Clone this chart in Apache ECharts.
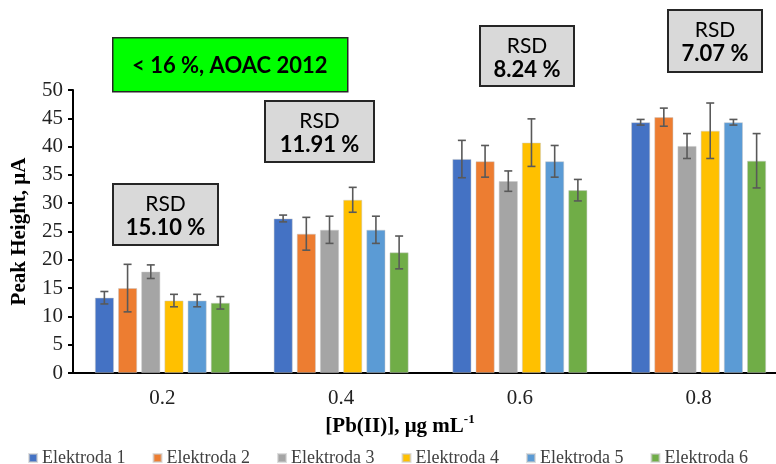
<!DOCTYPE html>
<html>
<head>
<meta charset="utf-8">
<script src="https://cdn.jsdelivr.net/npm/echarts@6/dist/echarts.min.js"></script>
<style>html,body{margin:0;padding:0;background:#fff}#c{width:776px;height:464px}</style>
</head>
<body>
<div id="c"></div>
<script>
const categories = ['0.2', '0.4', '0.6', '0.8'];
const seriesNames = ['Elektroda 1', 'Elektroda 2', 'Elektroda 3', 'Elektroda 4', 'Elektroda 5', 'Elektroda 6'];
const e1 = [13.3, 27.3, 37.8, 44.3];
const e2 = [15.0, 24.6, 37.4, 45.2];
const e3 = [17.9, 25.3, 33.9, 40.1];
const e4 = [12.8, 30.6, 40.7, 42.8];
const e5 = [12.8, 25.3, 37.4, 44.3];
const e6 = [12.4, 21.3, 32.3, 37.5];
const err1 = [1.1, 0.6, 3.3, 0.5];
const err2 = [4.2, 2.9, 2.8, 1.6];
const err3 = [1.2, 2.4, 1.8, 2.2];
const err4 = [1.1, 2.2, 4.2, 4.9];
const err5 = [1.1, 2.4, 2.8, 0.5];
const err6 = [1.1, 2.9, 1.9, 4.8];
const rsdLabels = ['15.10 %', '11.91 %', '8.24 %', '7.07 %'];
const yTicks = [0, 5, 10, 15, 20, 25, 30, 35, 40, 45, 50];

const values = [e1, e2, e3, e4, e5, e6];
const errors = [err1, err2, err3, err4, err5, err6];
const colors = ['#4472C4', '#ED7D31', '#A5A5A5', '#FFC000', '#5B9BD5', '#70AD47'];
const BAR_W = 19, BAR_STEP = 23.2;

const chart = echarts.init(document.getElementById('c'));
const series = [];
values.forEach((v, i) => {
  series.push({
    name: seriesNames[i], type: 'bar', data: v, barWidth: BAR_W, barGap: '22%',
    itemStyle: { color: colors[i], borderColor: 'rgba(200,200,200,0.6)', borderWidth: 0.8 }
  });
});
values.forEach((v, i) => {
  series.push({
    type: 'custom', name: seriesNames[i] + ' err', silent: true, z: 5,
    data: v.map((val, k) => [k, val - errors[i][k], val + errors[i][k]]),
    renderItem: function (params, api) {
      const lo = api.coord([api.value(0), api.value(1)]);
      const hi = api.coord([api.value(0), api.value(2)]);
      const x = lo[0] + (i - 2.5) * BAR_STEP;
      const cap = 4;
      const st = { stroke: '#595959', lineWidth: 1.6 };
      return { type: 'group', children: [
        { type: 'line', shape: { x1: x, y1: lo[1], x2: x, y2: hi[1] }, style: st },
        { type: 'line', shape: { x1: x - cap, y1: lo[1], x2: x + cap, y2: lo[1] }, style: st },
        { type: 'line', shape: { x1: x - cap, y1: hi[1], x2: x + cap, y2: hi[1] }, style: st }
      ]};
    }
  });
});

const boxFont = 'Lato, "Open Sans", sans-serif';
function rsdBox(x, y, w, h, label) {
  return { type: 'group', left: x, top: y, children: [
    { type: 'rect', shape: { x: 0, y: 0, width: w, height: h }, style: { fill: '#D9D9D9', stroke: '#262626', lineWidth: 2 } },
    { type: 'text', x: w / 2, y: 20, style: { text: 'RSD', font: 'normal 21px ' + boxFont, fill: '#000', align: 'center', verticalAlign: 'middle' } },
    { type: 'text', x: w / 2, y: 44, style: { text: label, font: 'bold 22px ' + boxFont, fill: '#000', align: 'center', verticalAlign: 'middle' } }
  ]};
}

const option = {
  animation: false,
  color: colors,
  grid: { left: 73, right: -12, top: 90, bottom: 91, containLabel: false, outerBoundsMode: 'none' },
  legend: {
    data: seriesNames, top: 444, left: 'center', itemWidth: 8, itemHeight: 8, itemGap: 27,
    icon: 'rect',
    textStyle: { fontFamily: '"Liberation Serif", serif', fontSize: 18, color: '#404040' }
  },
  xAxis: {
    type: 'category', data: categories,
    axisLine: { lineStyle: { color: '#000', width: 2 } },
    axisTick: { show: false },
    axisLabel: { fontFamily: '"Liberation Serif", serif', fontSize: 21, color: '#222', margin: 15 }
  },
  yAxis: {
    type: 'value', min: 0, max: 50, interval: 5,
    name: 'Peak Height, μA', nameLocation: 'middle', nameGap: 43, nameRotate: 90,
    nameTextStyle: { fontFamily: '"Liberation Serif", serif', fontSize: 21, fontWeight: 'bold', color: '#000' },
    axisLine: { show: true, lineStyle: { color: '#000', width: 2 } },
    axisTick: { show: true, length: 5, lineStyle: { color: '#000', width: 2 } },
    splitLine: { show: false },
    axisLabel: { fontFamily: '"Liberation Serif", serif', fontSize: 21, color: '#222', margin: 10,
      formatter: v => yTicks.indexOf(v) >= 0 ? String(v) : '' }
  },
  graphic: [
    { type: 'group', left: 112, top: 37, children: [
      { type: 'rect', shape: { x: 0, y: 0, width: 235, height: 54 }, style: { fill: '#00FF00', stroke: '#262626', lineWidth: 1.5 } },
      { type: 'text', x: 117, y: 28, style: { text: '< 16 %, AOAC 2012', font: 'bold 22px ' + boxFont, fill: '#000', align: 'center', verticalAlign: 'middle' } }
    ]},
    rsdBox(112, 183, 105, 61, rsdLabels[0]),
    rsdBox(264, 100, 109, 61, rsdLabels[1]),
    rsdBox(479, 25, 94, 60, rsdLabels[2]),
    rsdBox(667, 9, 94, 62, rsdLabels[3]),
    { type: 'text', x: 400, y: 425, style: {
      text: '{b|[Pb(II)], μg mL}{s|-1}', align: 'center', verticalAlign: 'middle',
      rich: {
        b: { fontFamily: '"Liberation Serif", serif', fontSize: 21, fontWeight: 'bold', fill: '#000', lineHeight: 24, verticalAlign: 'bottom' },
        s: { fontFamily: '"Liberation Serif", serif', fontSize: 13, fontWeight: 'bold', fill: '#000', lineHeight: 24, verticalAlign: 'top' }
      }
    }}
  ],
  series: series
};
chart.setOption(option);
</script>
</body>
</html>
